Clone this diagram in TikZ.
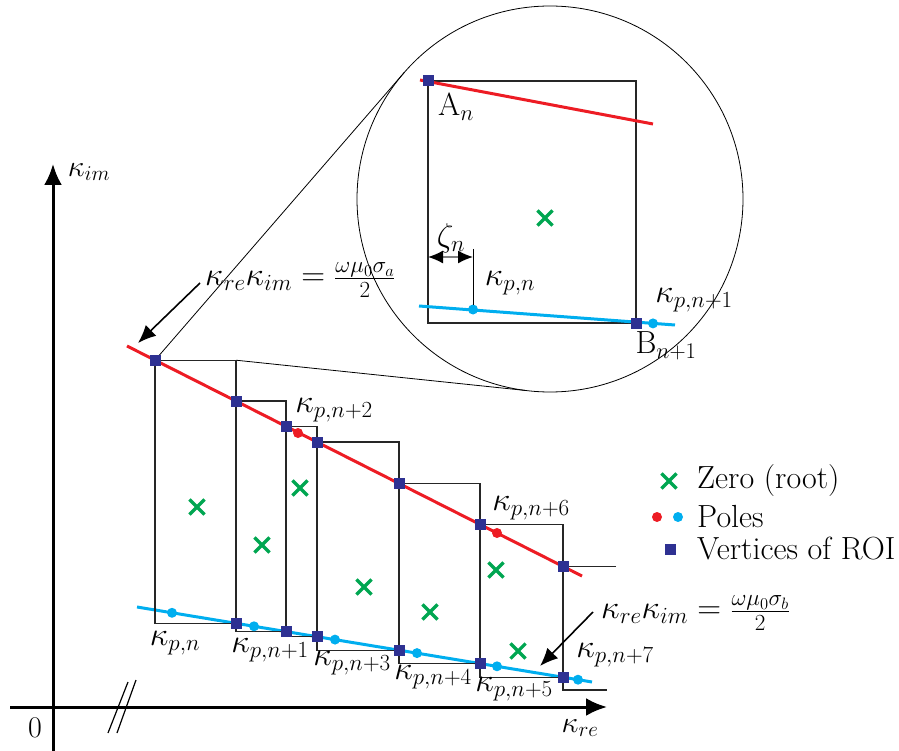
\documentclass[tikz,border=0pt]{standalone}
\usepackage{fix-cm}
\usetikzlibrary{arrows.meta,shapes.misc,calc}
\definecolor{redl}{HTML}{ED1C24}
\definecolor{bluel}{HTML}{00AEEF}
\definecolor{navy}{HTML}{2E3192}
\definecolor{zgreen}{HTML}{00A651}
\begin{document}
\begin{tikzpicture}[x=1pt,y=-1pt,
 sq/.style={rectangle,fill=navy,minimum size=11pt,inner sep=0pt,outer sep=0pt},
 pole/.style={circle,fill=#1,minimum size=10pt,inner sep=0pt,outer sep=0pt},
 zero/.style={cross out,draw=zgreen,line width=3.2pt,minimum size=12pt,inner sep=0pt},
 redline/.style={draw=redl,line width=3pt},
 blueline/.style={draw=bluel,line width=3pt},
 roi/.style={draw=black!85,line width=1.4pt},
 thinl/.style={draw=black,line width=0.8pt},
 axis/.style={line width=3pt,-{Latex[length=21pt,width=18pt]}},
 annot/.style={line width=1.6pt,-{Latex[length=18pt,width=15pt]}},
 lbl/.style={font=\fontsize{33}{38}\selectfont,inner sep=0pt},
 txt/.style={font=\fontsize{32}{36}\selectfont,inner sep=0pt},
 axl/.style={font=\fontsize{30}{34}\selectfont,inner sep=0pt},
]
\useasboundingbox (0,0) rectangle (899,751);

% axes
\coordinate (yb) at (53,751); \coordinate (yt) at (53,164);
\coordinate (xl) at (10,707); \coordinate (xr) at (607,707);
\draw[axis] (yb) -- (yt);
\draw[axis] (xl) -- (xr);
\coordinate (s1a) at (108,733); \coordinate (s1b) at (128,682);
\coordinate (s2a) at (117,733); \coordinate (s2b) at (136,680);
\draw[line width=1.2pt] (s1a) -- (s1b) (s2a) -- (s2b);
\node[axl] (zero) at (35,728) {0};
\node[axl] (kim) at (89,172) {$\kappa_{im}$};
\node[axl] (kre) at (580,728) {$\kappa_{re}$};

% zoom circle
\node[circle,draw,line width=0.8pt,minimum size=386pt,inner sep=0pt,outer sep=0pt] (circ) at (550,199) {};

% curves
\coordinate (rs) at (127,346); \coordinate (re) at (582,576);
\coordinate (bs) at (137,607); \coordinate (be) at (592,682);
\draw[redline] (rs) -- (re);
\draw[blueline] (bs) -- (be);

% vertices
\node[sq] (r1) at (155,360.2) {};
\node[sq] (r2) at (236,401.1) {};
\node[sq] (r3) at (286,426.4) {};
\node[sq] (r4) at (317,442.0) {};
\node[sq] (r5) at (399,483.5) {};
\node[sq] (r6) at (480,524.4) {};
\node[sq] (r7) at (563,566.4) {};
\node[sq] (b2) at (236,623.3) {};
\node[sq] (b3) at (286,631.6) {};
\node[sq] (b4) at (317,636.7) {};
\node[sq] (b5) at (399,650.2) {};
\node[sq] (b6) at (480,663.5) {};
\node[sq] (b7) at (563,677.2) {};

% tangent lines
\coordinate (c1) at (r2.center |- r1.center);
\draw[thinl] (r1.center) -- (circ.139);
\draw[thinl] (c1) -- (circ.263.5);

% ROI rectangles
\draw[roi] (r1.center) rectangle (b2.center);
\draw[roi] (r2.center) rectangle (b3.center);
\draw[roi] (r3.center) rectangle (b4.center);
\draw[roi] (r4.center) rectangle (b5.center);
\draw[roi] (r5.center) rectangle (b6.center);
\draw[roi] (r6.center) rectangle (b7.center);
\coordinate (r7e) at (616,566.4); \coordinate (b7e) at (607,690);
\draw[roi] (r7e) -- (r7.center) -- (r7.center |- b7e) -- (b7e);

% redraw squares on top
\foreach \n in {r1,r2,r3,r4,r5,r6,r7,b2,b3,b4,b5,b6,b7}{\fill[navy] (\n.south west) rectangle (\n.north east);}

% poles
\node[pole=redl] (pr1) at (298,433) {};
\node[pole=redl] (pr2) at (497,533) {};
\node[pole=bluel] (pb1) at (172,612.8) {};
\node[pole=bluel] (pb2) at (254,626.3) {};
\node[pole=bluel] (pb3) at (335,639.6) {};
\node[pole=bluel] (pb4) at (417,653.1) {};
\node[pole=bluel] (pb5) at (497,666.3) {};
\node[pole=bluel] (pb6) at (578,679.7) {};

% zeros
\node[zero] (z1) at (197,507) {};
\node[zero] (z2) at (262,545) {};
\node[zero] (z3) at (300,488) {};
\node[zero] (z4) at (364,587) {};
\node[zero] (z5) at (430,612) {};
\node[zero] (z6) at (496,570) {};
\node[zero] (z7) at (518,651) {};

% labels
\node[lbl] (l2) at (334,410) {$\kappa_{p,n+2}$};
\node[lbl] (l6) at (531,508) {$\kappa_{p,n+6}$};
\node[lbl] (l0) at (175,643) {$\kappa_{p,n}$};
\node[lbl] (l1) at (270,650) {$\kappa_{p,n+1}$};
\node[lbl] (l3) at (352,663) {$\kappa_{p,n+3}$};
\node[lbl] (l4) at (433,677) {$\kappa_{p,n+4}$};
\node[lbl] (l5) at (514,689) {$\kappa_{p,n+5}$};
\node[lbl] (l7) at (615,655) {$\kappa_{p,n+7}$};

% equations
\node[lbl,anchor=west] (eqa) at (205,280) {$\kappa_{re}\kappa_{im}=\frac{\omega\mu_0\sigma_a}{2}$};
\node[lbl,anchor=west] (eqb) at (601,613) {$\kappa_{re}\kappa_{im}=\frac{\omega\mu_0\sigma_b}{2}$};
\coordinate (aas) at (200,283); \coordinate (aae) at (138,343);
\coordinate (abs) at (593,612); \coordinate (abe) at (540,666);
\draw[annot] (aas) -- (aae);
\draw[annot] (abs) -- (abe);

% inset
\coordinate (ira) at (420,80); \coordinate (irb) at (653,124);
\coordinate (iba) at (419,306); \coordinate (ibb) at (675,325);
\node[sq] (A) at (428,81) {};
\node[sq] (B) at (636,323) {};
\draw[roi] (A.center) rectangle (B.center);
\draw[redline] (ira) -- (irb);
\draw[blueline] (iba) -- (ibb);
\fill[navy] (A.south west) rectangle (A.north east);
\fill[navy] (B.south west) rectangle (B.north east);
\node[pole=bluel] (ip1) at (473,309.5) {};
\node[pole=bluel] (ip2) at (653,323.4) {};
\node[zero] (iz) at (545,218) {};
\node[txt] (An) at (456,107) {A$_n$};
\node[txt] (Bn) at (666,346) {B$_{n+1}$};
\node[lbl] (ik1) at (694,300) {$\kappa_{p,n+1}$};
\node[lbl] (ik0) at (510,283) {$\kappa_{p,n}$};
\node[lbl] (zeta) at (451,238) {$\zeta_n$};
\coordinate (za) at (428,257); \coordinate (zb) at (473,257);
\coordinate (zt) at (473,249);
\draw[draw=gray,line width=1.4pt,{Latex[length=15pt,width=13pt,color=black]}-{Latex[length=15pt,width=13pt,color=black]}] (za) -- (zb);
\draw[thinl] (zt) -- (ip1.north);

% legend
\node[zero] (lgz) at (669,481) {};
\node[txt,anchor=west] (lgzt) at (697,481) {Zero (root)};
\node[pole=redl] (lgp1) at (657,517) {};
\node[pole=bluel] (lgp2) at (678,517) {};
\node[txt,anchor=west] (lgpt) at (697,517) {Poles};
\node[sq] (lgs) at (670,549) {};
\node[txt,anchor=west] (lgst) at (697,549) {Vertices of ROI};
\end{tikzpicture}
\end{document}
